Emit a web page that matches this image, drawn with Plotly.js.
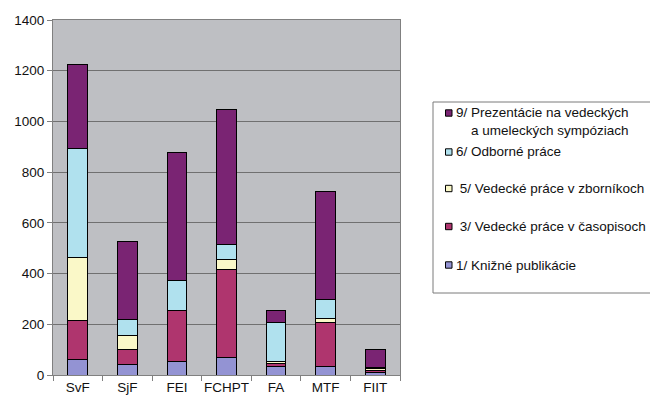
<!DOCTYPE html>
<html><head><meta charset="utf-8">
<script src="https://cdn.plot.ly/plotly-3.0.1.min.js"></script>
<style>html,body{margin:0;padding:0;background:#fff;overflow:hidden}</style>
</head><body><div id="chart" style="width:650px;height:403px"></div>
<script>
// ---- data ----
const categories = ['SvF', 'SjF', 'FEI', 'FCHPT', 'FA', 'MTF', 'FIIT'];
const knizne      = [60, 40, 54, 71, 33, 35, 8];     // 1/ Knižné publikácie
const casopisy    = [155, 60, 199, 346, 14, 172, 10]; // 3/ Vedecké práce v časopisoch
const zborniky    = [250, 57, 2, 39, 8, 16, 7];      // 5/ Vedecké práce v zborníkoch
const odborne     = [430, 62, 119, 59, 151, 73, 6];  // 6/ Odborné práce
const prezentacie = [330, 308, 505, 533, 47, 426, 70]; // 9/ Prezentácie ...
const seriesNames = [
  '1/ Knižné publikácie',
  '3/ Vedecké práce v časopisoch',
  '5/ Vedecké práce v zborníkoch',
  '6/ Odborné práce',
  '9/ Prezentácie na vedeckých a umeleckých sympóziach'
];
const legendLabels = [
  '1/ Knižné publikácie',
  '\u00a03/ Vedecké práce v časopisoch',
  '\u00a05/ Vedecké práce v zborníkoch',
  '6/ Odborné práce',
  '9/ Prezentácie na vedeckých<br>\u00a0\u00a0\u00a0\u00a0a umeleckých sympóziach'
];
const yTickVals = [0, 200, 400, 600, 800, 1000, 1200, 1400];

// ---- style ----
const seriesColors = ['#9393D3', '#AF356E', '#FAF8C8', '#B0E1EE', '#7A2473'];
const seriesValues = [knizne, casopisy, zborniky, odborne, prezentacie];
const FONT = 'Liberation Sans, Arial, Helvetica, sans-serif';
const FS = 13.5;

// plot area in pixels
const L = 53, T = 20, W = 347, H = 355;
const px = v => (v - L) / W;
const py = v => (T + H - v) / H;

const traces = seriesValues.map((vals, i) => ({
  type: 'bar',
  x: categories,
  y: vals,
  name: seriesNames[i],
  marker: {color: seriesColors[i], line: {color: '#000000', width: 1}},
  showlegend: false,
  hovertemplate: '%{x}: %{y}<extra>' + seriesNames[i] + '</extra>'
}));

// legend drawn with shapes + annotations
const legendY = [265, 226.5, 188.5, 152, 113]; // centres of first text line
const shapes = [{
  type: 'rect', xref: 'paper', yref: 'paper',
  x0: px(433), x1: px(700), y0: py(293), y1: py(102),
  line: {color: '#7a7a7a', width: 1}, fillcolor: 'rgba(0,0,0,0)', layer: 'above'
}];
const annotations = [];
seriesNames.forEach((n, i) => {
  const cy = legendY[i];
  shapes.push({
    type: 'rect', xref: 'paper', yref: 'paper',
    x0: px(445.5), x1: px(452), y0: py(cy + 3.2), y1: py(cy - 3.2),
    line: {color: '#000000', width: 1}, fillcolor: seriesColors[i], layer: 'above'
  });
  const multi = legendLabels[i].indexOf('<br>') >= 0;
  annotations.push({
    xref: 'paper', yref: 'paper', x: px(453.5),
    y: multi ? py(cy - 10) : py(cy),
    xanchor: 'left', yanchor: multi ? 'top' : 'middle',
    align: 'left', showarrow: false,
    text: legendLabels[i],
    font: {family: FONT, size: FS, color: '#111111'}
  });
});

const layout = {
  width: 650, height: 403,
  margin: {l: L, r: 650 - L - W, t: T, b: 403 - T - H, autoexpand: false},
  paper_bgcolor: '#ffffff',
  plot_bgcolor: '#BEBFC3',
  barmode: 'stack',
  bargap: 0.6,
  font: {family: FONT, size: FS, color: '#111111'},
  showlegend: false,
  xaxis: {
    type: 'category',
    showgrid: false,
    showline: true, linecolor: '#808080', linewidth: 1, mirror: true,
    ticks: 'outside', tickson: 'boundaries', ticklen: 5, tickcolor: '#808080',
    tickangle: 0,
    tickfont: {family: FONT, size: FS, color: '#111111'},
    fixedrange: true
  },
  yaxis: {
    range: [0, 1400],
    tickvals: yTickVals,
    showgrid: true, gridcolor: '#707070', gridwidth: 1,
    zeroline: false,
    showline: true, linecolor: '#808080', linewidth: 1, mirror: true,
    ticks: 'outside', ticklen: 5, tickcolor: '#808080',
    tickfont: {family: FONT, size: FS, color: '#111111'},
    fixedrange: true
  },
  shapes: shapes,
  annotations: annotations
};

Plotly.newPlot('chart', traces, layout, {displayModeBar: false, staticPlot: true});
</script>
</body></html>
